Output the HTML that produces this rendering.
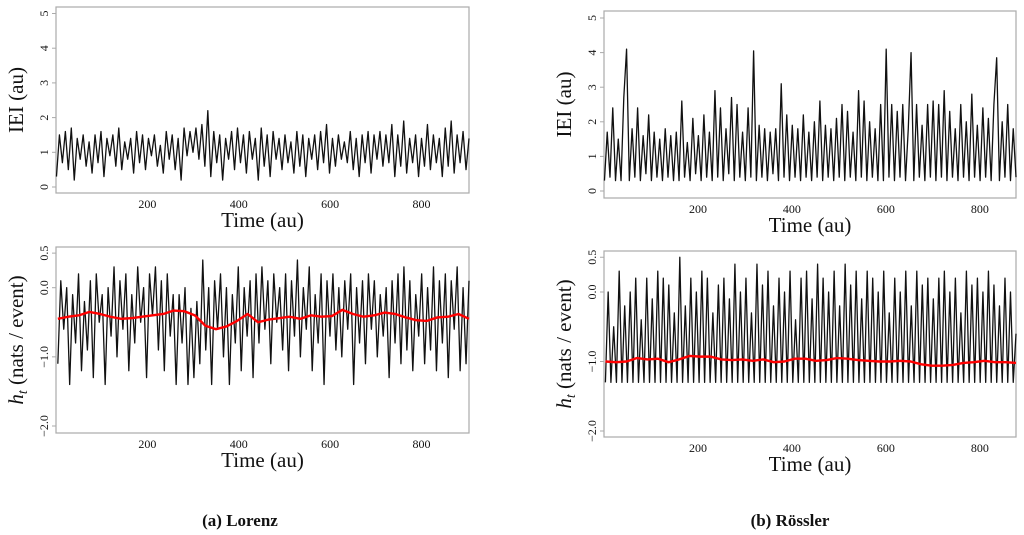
<!DOCTYPE html>
<html><head><meta charset="utf-8"><style>
html,body{margin:0;padding:0;background:#fff;}
svg{display:block;}
text{font-family:"Liberation Serif",serif;fill:#111;}
</style></head><body>
<svg id="fig" width="1024" height="535" viewBox="0 0 1024 535" xmlns="http://www.w3.org/2000/svg">
<text x="240" y="526" text-anchor="middle" font-size="17" font-weight="bold">(a) Lorenz</text>
<text x="790" y="526" text-anchor="middle" font-size="17" font-weight="bold">(b) Rössler</text>
</svg>
<script>
const lorenzIEI=[0.3,1.5,0.7,1.6,0.5,1.7,0.2,1.4,0.8,1.5,0.6,1.3,0.4,1.5,0.7,1.6,0.3,1.4,0.9,1.5,
0.6,1.7,0.5,1.3,0.8,1.4,0.4,1.6,0.7,1.5,0.5,1.4,0.9,1.5,0.6,1.2,0.4,1.6,0.8,1.5,
0.5,1.4,0.2,1.7,0.9,1.6,1.0,1.7,0.8,1.8,0.6,2.2,0.3,1.6,0.7,1.5,0.2,1.4,0.8,1.6,
0.5,1.7,0.7,1.5,0.4,1.6,0.8,1.4,0.2,1.7,0.6,1.5,0.3,1.6,0.8,1.4,0.5,1.5,0.7,1.3,
0.4,1.6,0.6,1.5,0.3,1.4,0.8,1.5,0.5,1.6,0.7,1.8,0.4,1.4,0.6,1.5,0.8,1.3,0.7,1.6,
0.5,1.4,0.3,1.5,0.7,1.6,0.4,1.5,0.8,1.6,0.6,1.5,0.7,1.8,0.3,1.5,0.6,1.9,0.4,1.4,
0.7,1.5,0.3,1.4,0.6,1.8,0.5,1.5,0.7,1.4,0.3,1.7,0.6,1.9,0.4,1.5,0.7,1.6,0.5,1.4];
const lorenzH=[-1.1,0.1,-0.6,0.0,-1.4,-0.1,-0.8,0.2,-1.2,-0.2,-0.9,0.1,-1.3,0.2,-0.5,-0.1,-1.4,0.0,-0.7,0.3,
-1.0,0.1,-0.6,0.2,-1.2,-0.1,-0.8,0.3,-0.5,0.0,-1.3,0.2,-0.4,0.3,-0.9,0.1,-1.2,0.2,-0.7,-0.1,
-1.4,-0.1,-0.8,0.0,-1.4,-0.3,-1.3,-0.2,-1.1,0.4,-0.9,0.0,-1.4,0.1,-0.6,0.2,-1.0,0.0,-1.4,-0.1,
-0.8,0.3,-1.2,0.0,-0.7,0.1,-1.3,0.2,-0.8,0.3,-0.6,0.1,-1.1,0.2,-0.5,0.0,-0.9,0.2,-1.2,0.1,
-0.7,0.4,-1.0,0.0,-0.6,0.3,-1.2,-0.1,-0.8,0.2,-1.4,0.1,-0.7,0.2,-0.9,0.0,-1.0,0.1,-0.6,0.2,
-1.4,0.0,-0.8,0.1,-1.1,0.2,-0.6,0.1,-1.0,-0.1,-0.7,0.0,-1.3,0.1,-0.8,0.2,-1.1,0.3,-0.9,0.1,
-1.2,-0.1,-0.7,0.2,-1.1,0.0,-0.9,0.3,-1.2,0.1,-0.8,0.2,-1.3,0.1,-0.6,0.3,-1.2,0.0,-1.1,0.1];
const lorenzAvg=[-0.45,-0.42,-0.40,-0.35,-0.38,-0.42,-0.45,-0.44,-0.42,-0.40,-0.38,-0.33,-0.34,-0.40,-0.55,-0.60,-0.56,-0.48,-0.38,-0.50,-0.46,-0.44,-0.42,-0.45,-0.40,-0.42,-0.41,-0.32,-0.38,-0.42,-0.40,-0.36,-0.38,-0.43,-0.47,-0.48,-0.43,-0.42,-0.38,-0.45];
const rosslerIEI=[0.3,1.7,0.4,2.4,0.3,1.5,0.3,2.7,4.1,0.3,1.8,0.4,2.4,0.3,1.6,0.5,2.2,0.3,1.7,0.4,
1.5,0.3,1.8,0.4,1.6,0.3,1.7,0.3,2.6,0.4,1.4,0.3,2.1,0.5,1.6,0.3,2.2,0.4,1.7,0.3,
2.9,0.4,2.4,0.3,1.8,0.5,2.7,0.3,2.5,0.4,1.7,0.3,2.4,0.4,4.05,0.3,1.9,0.4,1.8,0.3,
1.7,0.5,1.8,0.3,3.1,0.4,2.2,0.3,1.9,0.4,1.8,0.3,2.2,0.4,1.7,0.3,2.0,0.4,2.6,0.3,
1.9,0.4,1.8,0.3,2.1,0.4,2.5,0.3,2.3,0.4,1.7,0.3,2.9,0.4,2.6,0.3,2.0,0.4,1.8,0.3,
2.5,0.3,4.1,0.4,2.5,0.3,2.3,0.4,2.5,0.3,1.8,4.0,0.3,2.5,0.4,1.9,0.3,2.5,0.4,2.6,
0.3,2.5,0.4,2.9,0.3,2.3,0.4,1.8,0.3,2.5,0.4,2.0,0.3,2.8,0.4,1.9,0.3,2.4,0.4,2.1,
0.3,2.5,3.85,0.3,2.0,0.4,2.5,0.3,1.8,0.4];
const rosslerH=[-1.3,0.0,-1.3,-0.5,-1.3,0.3,-1.3,-0.2,-1.3,0.0,-1.3,0.2,-1.3,-0.4,-1.3,0.2,-1.3,-0.1,-1.3,0.3,
-1.3,0.2,-1.3,0.1,-1.3,-0.3,-1.3,0.5,-1.3,-0.2,-1.3,0.2,-1.3,0.0,-1.3,0.3,-1.3,0.2,-1.3,-0.3,
-1.3,0.1,-1.3,0.2,-1.3,-0.1,-1.3,0.4,-1.3,0.0,-1.3,0.2,-1.3,-0.3,-1.3,0.4,-1.3,0.1,-1.3,0.3,
-1.3,-0.2,-1.3,0.2,-1.3,0.0,-1.3,0.3,-1.3,-0.4,-1.3,0.2,-1.3,0.3,-1.3,-0.1,-1.3,0.4,-1.3,0.2,
-1.3,0.0,-1.3,0.3,-1.3,-0.2,-1.3,0.4,-1.3,0.1,-1.3,0.3,-1.3,-0.1,-1.3,0.3,-1.3,0.2,-1.3,0.0,
-1.3,0.3,-1.3,-0.3,-1.3,0.2,-1.3,0.0,-1.3,0.3,-1.3,-0.2,-1.3,0.3,-1.3,0.1,-1.3,0.2,-1.3,-0.1,
-1.3,0.2,-1.3,0.3,-1.3,0.0,-1.3,0.2,-1.3,-0.3,-1.3,0.3,-1.3,0.1,-1.3,0.2,-1.3,0.0,-1.3,0.3,
-1.3,0.1,-1.3,-0.2,-1.3,0.2,-1.3,0.0,-1.3,-0.6];
const rosslerAvg=[-1.00,-1.01,-1.00,-0.95,-0.97,-0.96,-1.01,-0.97,-0.92,-0.93,-0.93,-0.97,-0.98,-0.97,-0.99,-0.97,-1.01,-1.00,-0.96,-0.96,-0.99,-0.98,-0.95,-0.96,-0.98,-0.99,-1.00,-1.00,-0.99,-1.00,-1.04,-1.06,-1.06,-1.05,-1.02,-1.01,-0.99,-1.01,-1.01,-1.02];
const xTicks=[200,400,600,800];
const ieiTicks=[0,1,2,3,4,5];
const hTicks=[0.5,0.0,-1.0,-2.0];
const hTickLabels=["0.5","0.0","\u22121.0","\u22122.0"];

const NS="http://www.w3.org/2000/svg";
const svg=document.getElementById('fig');
function mk(tag,attrs,parent){const e=document.createElementNS(NS,tag);for(const k in attrs)e.setAttribute(k,attrs[k]);(parent||svg).appendChild(e);return e;}

function panel(cfg){
  const g=mk('g',{});
  
  
  const xs=v=>cfg.x0+(v-cfg.t0)/(cfg.t1-cfg.t0)*(cfg.x1-cfg.x0);
  const ys=v=>cfg.yA+(v-cfg.vA)/(cfg.vB-cfg.vA)*(cfg.yB-cfg.yA);
  const box=mk('rect',{x:cfg.x0,y:cfg.top,width:cfg.x1-cfg.x0,height:cfg.bot-cfg.top,fill:'none',stroke:'#aaa','stroke-width':1.2},g);
  
  
  cfg.series.forEach(s=>{
    const n=s.data.length;const ta=s.ta,tb=s.tb;
    const pts=s.data.map((v,i)=>xs(ta+(tb-ta)*i/(n-1)).toFixed(2)+','+ys(v).toFixed(2)).join(' ');
    const p=mk('polyline',{points:pts,fill:'none',stroke:s.color,'stroke-width':s.w,'stroke-linejoin':'round'},g);
    
    
  });
  xTicks.forEach(t=>{
    const tx=mk('text',{x:xs(t),y:cfg.bot+15,'text-anchor':'middle','font-size':12},g);
    tx.textContent=t;
    
    
  });
  cfg.yTicks.forEach((t,i)=>{
    const y=ys(t);
    mk('line',{x1:cfg.x0-4,x2:cfg.x0,y1:y,y2:y,stroke:'#aaa','stroke-width':1},g);
    const tx=mk('text',{x:0,y:0,'text-anchor':'middle','font-size':12,transform:`translate(${cfg.x0-8},${y}) rotate(-90)`},g);
    tx.textContent=cfg.yLabels[i];
    
    
  });
  const xt=mk('text',{x:(cfg.x0+cfg.x1)/2,y:cfg.bot+34,'text-anchor':'middle','font-size':21},g);
  xt.textContent='Time (au)';
  
  
  const yt=mk('text',{x:0,y:0,'text-anchor':'middle','font-size':21,transform:`translate(${cfg.x0-33},${(cfg.top+cfg.bot)/2}) rotate(-90)`},g);
  yt.innerHTML=cfg.yTitle;
  
  
}
const ieiT='IEI (au)';
const hT='<tspan font-style="italic">h</tspan><tspan font-style="italic" font-size="14" dy="4">t</tspan><tspan dy="-4"> (nats / event)</tspan>';
panel({name:'lorenz-iei-panel',x0:56,x1:469,t0:0,t1:904,top:7,bot:193,yA:187,vA:0,yB:13.5,vB:5,yTicks:ieiTicks,yLabels:ieiTicks.map(String),yTitle:ieiT,
  series:[{name:'lorenz-iei-line',data:lorenzIEI,ta:1,tb:904,color:'#111',w:1.3}]});
panel({name:'lorenz-entropy-panel',x0:56,x1:469,t0:0,t1:904,top:247,bot:433,yA:287.7,vA:0,yB:426,vB:-2,yTicks:hTicks,yLabels:hTickLabels,yTitle:hT,
  series:[{name:'lorenz-entropy-line',data:lorenzH,ta:4,tb:904,color:'#111',w:1.3},{name:'lorenz-moving-average',data:lorenzAvg,ta:4,tb:904,color:'#f00',w:2.4}]});
panel({name:'rossler-iei-panel',x0:604,x1:1016,t0:0,t1:877,top:11,bot:198,yA:191,vA:0,yB:18,vB:5,yTicks:ieiTicks,yLabels:ieiTicks.map(String),yTitle:ieiT,
  series:[{name:'rossler-iei-line',data:rosslerIEI,ta:1,tb:877,color:'#111',w:1.3}]});
panel({name:'rossler-entropy-panel',x0:604,x1:1016,t0:0,t1:877,top:251,bot:437,yA:292,vA:0,yB:431,vB:-2,yTicks:hTicks,yLabels:hTickLabels,yTitle:hT,
  series:[{name:'rossler-entropy-line',data:rosslerH,ta:3,tb:877,color:'#111',w:1.3},{name:'rossler-moving-average',data:rosslerAvg,ta:3,tb:877,color:'#f00',w:2.4}]});
</script>
</body></html>
